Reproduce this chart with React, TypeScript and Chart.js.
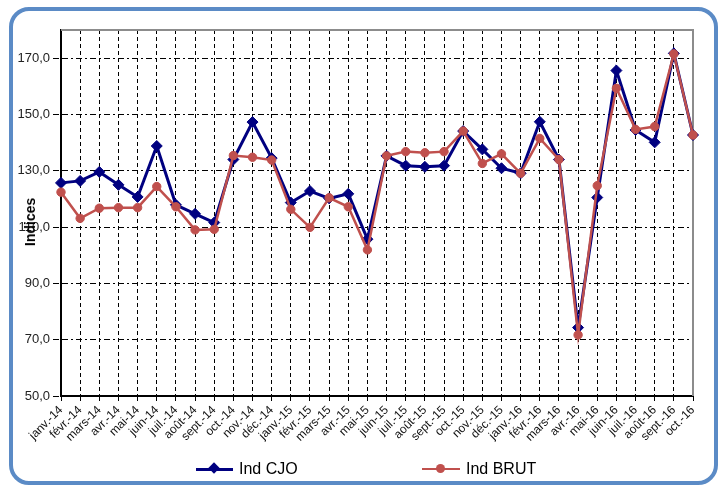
import React, { useEffect, useRef } from "react";
import { Chart, registerables } from "chart.js";

Chart.register(...registerables);

const categories = [
  "janv.-14", "févr.-14", "mars-14", "avr.-14", "mai-14", "juin-14", "juil.-14", "août-14", "sept.-14", "oct.-14", "nov.-14", "déc.-14",
  "janv.-15", "févr.-15", "mars-15", "avr.-15", "mai-15", "juin-15", "juil.-15", "août-15", "sept.-15", "oct.-15", "nov.-15", "déc.-15",
  "janv.-16", "févr.-16", "mars-16", "avr.-16", "mai-16", "juin-16", "juil.-16", "août-16", "sept.-16", "oct.-16",
];

const indCJO = [
  125.7, 126.4, 129.6, 125.0, 120.7, 138.8, 117.9, 114.7, 111.6, 134.0, 147.3, 134.5,
  118.7, 122.8, 120.2, 121.8, 105.7, 135.3, 131.8, 131.4, 131.8, 144.1, 137.6, 130.9,
  129.1, 147.4, 134.0, 74.3, 120.5, 165.6, 144.5, 140.1, 171.7, 142.7,
];

const indBRUT = [
  122.4, 113.1, 116.7, 116.9, 116.9, 124.4, 117.2, 109.0, 109.2, 135.4, 134.8, 133.8,
  116.3, 109.9, 120.4, 117.2, 101.9, 135.3, 136.8, 136.4, 136.8, 144.1, 132.6, 136.0,
  129.1, 141.5, 134.0, 71.7, 124.7, 159.3, 144.7, 145.7, 171.5, 142.7,
];

const yTicks = [50, 70, 90, 110, 130, 150, 170];
const yMin = 50;
const yMax = 180;

const frameLines = {
  id: "frameLines",
  beforeDatasetsDraw(chart: any) {
    const { ctx, chartArea } = chart;
    ctx.save();
    ctx.strokeStyle = "#8c8c8c";
    ctx.lineWidth = 2;
    ctx.beginPath();
    ctx.moveTo(chartArea.left, chartArea.top);
    ctx.lineTo(chartArea.right, chartArea.top);
    ctx.lineTo(chartArea.right, chartArea.bottom);
    ctx.stroke();
    ctx.restore();
  },
};

export default function App() {
  const ref = useRef<HTMLCanvasElement | null>(null);

  useEffect(() => {
    if (!ref.current) return;
    const chart = new Chart(ref.current, {
      type: "line",
      data: {
        labels: categories,
        datasets: [
          {
            label: "Ind CJO",
            data: indCJO,
            borderColor: "#000080",
            backgroundColor: "#000080",
            borderWidth: 3,
            pointStyle: "rectRot",
            pointRadius: 5.5,
            pointBorderWidth: 1,
            tension: 0,
            order: 1,
          },
          {
            label: "Ind BRUT",
            data: indBRUT,
            borderColor: "#C0504D",
            backgroundColor: "#C0504D",
            borderWidth: 2.5,
            pointStyle: "circle",
            pointRadius: 4.2,
            pointBorderWidth: 1,
            tension: 0,
            order: 0,
          },
        ],
      },
      options: {
        responsive: false,
        animation: false,
        devicePixelRatio: 1,
        layout: { padding: { left: 0, top: 30, right: 28, bottom: 29 } },
        plugins: {
          legend: { display: false },
          tooltip: { enabled: false },
        },
        scales: {
          x: {
            offset: false,
            grid: {
              color: "#000",
              lineWidth: 1,
              tickLength: 5,
              tickBorderDash: [],
            },
            border: { display: true, color: "#000", width: 2, dash: [4, 3] },
            ticks: {
              autoSkip: false,
              minRotation: 45,
              maxRotation: 45,
              color: "#111",
              padding: 2,
              font: { family: "Arial, 'Liberation Sans', sans-serif", size: 12 },
            },
            afterFit(scale: any) {
              scale.height = 60;
            },
          },
          y: {
            min: yMin,
            max: yMax,
            afterBuildTicks(scale: any) {
              scale.ticks = yTicks.map((v) => ({ value: v }));
            },
            grid: {
              color: "#000",
              lineWidth: 1,
              tickLength: 8,
              tickBorderDash: [6, 3, 2, 3],
            },
            border: { display: true, color: "#000", width: 2, dash: [6, 3, 2, 3] },
            ticks: {
              color: "#222",
              padding: 3,
              font: { family: "Arial, 'Liberation Sans', sans-serif", size: 13 },
              callback: (v: any) => Number(v).toFixed(1).replace(".", ","),
            },
            afterFit(scale: any) {
              scale.width = 61;
            },
          },
        },
      },
      plugins: [frameLines],
    });
    return () => chart.destroy();
  }, []);

  return (
    <div
      style={{
        position: "fixed",
        left: 0,
        top: 0,
        width: 721,
        height: 485,
        background: "#fff",
        overflow: "hidden",
        fontFamily: "Arial, 'Liberation Sans', sans-serif",
      }}
    >
      <div
        style={{
          position: "absolute",
          left: 9,
          top: 7,
          width: 701,
          height: 470,
          border: "4px solid #5B8BC6",
          borderRadius: 20,
          pointerEvents: "none",
        }}
      />
      <canvas ref={ref} width={721} height={485} style={{ position: "absolute", left: 0, top: 0 }} />
      <div
        style={{
          position: "absolute",
          left: 30,
          top: 222,
          transform: "translate(-50%, -50%) rotate(-90deg)",
          fontWeight: "bold",
          fontSize: 14,
          color: "#000",
          whiteSpace: "nowrap",
        }}
      >
        Indices
      </div>
      <div style={{ position: "absolute", left: 196, top: 458, height: 22, display: "flex", alignItems: "center" }}>
        <div style={{ position: "relative", width: 37, height: 3, background: "#000080" }}>
          <div
            style={{
              position: "absolute",
              left: 14,
              top: -3.5,
              width: 8,
              height: 8,
              background: "#000080",
              transform: "rotate(45deg)",
            }}
          />
        </div>
        <span style={{ marginLeft: 6, fontSize: 16, color: "#000" }}>Ind CJO</span>
      </div>
      <div style={{ position: "absolute", left: 422, top: 458, height: 22, display: "flex", alignItems: "center" }}>
        <div style={{ position: "relative", width: 38, height: 2.5, background: "#C0504D" }}>
          <div
            style={{
              position: "absolute",
              left: 14,
              top: -3.5,
              width: 9,
              height: 9,
              borderRadius: "50%",
              background: "#C0504D",
            }}
          />
        </div>
        <span style={{ marginLeft: 6, fontSize: 16, color: "#000" }}>Ind BRUT</span>
      </div>
    </div>
  );
}
